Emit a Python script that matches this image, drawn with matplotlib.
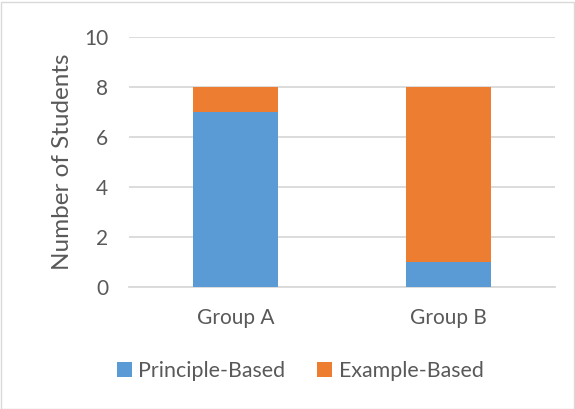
import matplotlib
matplotlib.use("Agg")
import matplotlib.pyplot as plt
from matplotlib.patches import Rectangle

plt.rcParams['font.family'] = ['Lato', 'DejaVu Sans']

groups = ["Group A", "Group B"]
principle_based = [7, 1]
example_based = [1, 7]
series_names = ["Principle-Based", "Example-Based"]
y_ticks = [0, 2, 4, 6, 8, 10]

text_color = "#595959"
blue = "#5B9BD5"
orange = "#ED7D31"

figure = plt.figure(figsize=(5.75, 4.09), dpi=100)
axis = figure.add_axes([129 / 575, 1 - 287 / 409, 426 / 575, 250 / 409])

x = list(range(len(groups)))
width = 0.4
b1 = axis.bar(x, principle_based, width, color=blue, label=series_names[0], zorder=3)
b2 = axis.bar(x, example_based, width, bottom=principle_based, color=orange,
              label=series_names[1], zorder=3)

axis.set_xlim(-0.5, 1.5)
axis.set_ylim(0, 10)
axis.set_yticks(y_ticks)
axis.set_xticks(x)
axis.set_xticklabels(groups)
axis.yaxis.grid(True, color="#D9D9D9", linewidth=1.3, zorder=0)
axis.set_axisbelow(True)
for side in ["top", "right", "left"]:
    axis.spines[side].set_visible(False)
axis.spines["bottom"].set_color("#D9D9D9")
axis.spines["bottom"].set_linewidth(1.3)
axis.tick_params(axis="both", length=0, labelsize=15, colors=text_color)
axis.tick_params(axis="y", pad=15)
axis.tick_params(axis="x", pad=15)
axis.set_ylabel("Number of Students", fontsize=17.5, color=text_color, labelpad=8)

figure.legend(handles=[b1, b2], loc="center", bbox_to_anchor=(300 / 575, 1 - 371 / 409),
              ncol=2, frameon=False, fontsize=15.4, labelcolor=text_color,
              handlelength=0.7, handleheight=0.7, handletextpad=0.3, columnspacing=1.5)

# chart border
figure.patches.append(Rectangle((0.5 / 575, 0.5 / 409), 1 - 2 / 575, 1 - 2 / 409,
                                transform=figure.transFigure, fill=False,
                                edgecolor="#D9D9D9", linewidth=1))

figure.savefig("out.png", dpi=100)
